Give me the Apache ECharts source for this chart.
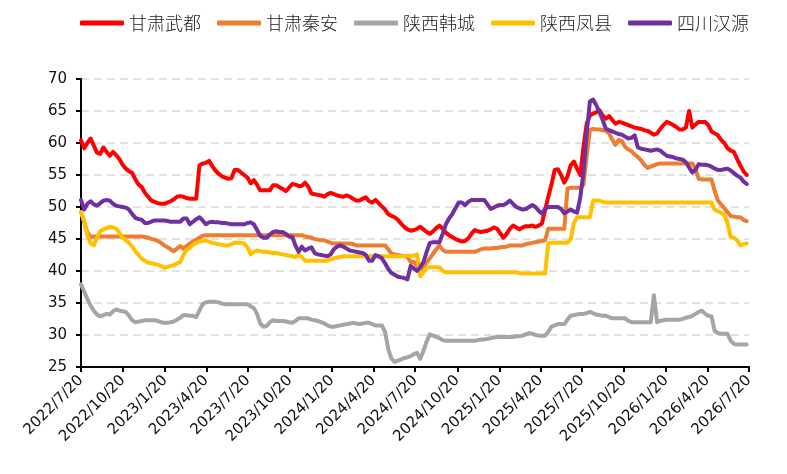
<!DOCTYPE html>
<html>
<head>
<meta charset="utf-8">
<script src="https://cdn.jsdelivr.net/npm/echarts@6/dist/echarts.min.js"></script>
<style>
html,body{margin:0;padding:0;background:#fff;}
#main{width:787px;height:474px;}
</style>
</head>
<body>
<div id="main"></div>
<script>
// 周度数据，从2022/7/20起每7天一个点
var startDay = [2022, 7, 20];
var endDay = [2026, 7, 20];
var names = ['甘肃武都', '甘肃秦安', '陕西韩城', '陕西凤县', '四川汉源'];
var colors = ['#FF0000', '#ED7D31', '#A5A5A5', '#FFC000', '#7030A0'];

var wudu = [
  60.4, 59.2, 60.0, 60.7, 59.6, 58.5, 58.3, 59.3, 58.6, 58.0,
  58.6, 58.1, 57.5, 56.6, 56.0, 55.6, 55.3, 54.3, 53.5, 53.1,
  52.2, 51.6, 51.0, 50.8, 50.6, 50.5, 50.5, 50.7, 50.9, 51.2,
  51.6, 51.7, 51.6, 51.4, 51.3, 51.3, 51.3, 56.5, 56.8, 56.9,
  57.2, 56.4, 55.7, 55.2, 54.8, 54.6, 54.4, 54.5, 55.8, 55.8,
  55.4, 55.0, 54.6, 53.7, 54.2, 53.5, 52.6, 52.6, 52.6, 52.6,
  53.4, 53.4, 53.1, 52.8, 52.5, 53.0, 53.6, 53.5, 53.3, 53.3,
  53.8, 53.2, 52.1, 52.0, 51.9, 51.8, 51.6, 52.0, 52.2, 52.0,
  51.8, 51.7, 51.6, 51.8, 51.6, 51.3, 51.0, 51.0, 51.3, 51.5,
  50.9, 50.7, 51.1, 50.6, 50.1, 49.6, 48.9, 48.6, 48.4, 48.0,
  47.4, 46.9, 46.5, 46.3, 46.4, 46.6, 46.9, 46.5, 46.1, 45.8,
  46.2, 46.7, 47.1, 46.6, 46.0, 45.6, 45.3, 45.0, 44.8, 44.6,
  44.7, 45.1, 45.8, 46.4, 46.2, 46.1, 46.2, 46.3, 46.5, 46.8,
  46.6, 45.9, 45.2, 45.8, 46.6, 47.1, 46.8, 46.5, 46.8, 47.0,
  47.0, 47.1, 46.9, 47.1, 47.4, 49.5, 51.6, 53.5, 55.8, 55.9,
  55.0, 53.8, 54.8, 56.5, 57.1, 56.0, 55.0, 59.4, 63.0, 64.3,
  64.6, 64.8, 65.1, 64.3, 63.8, 64.2, 63.6, 63.0, 63.3, 63.2,
  63.0, 62.8, 62.6, 62.4, 62.3, 62.2, 62.0, 61.9, 61.6, 61.3,
  61.5, 62.2, 62.8, 63.3, 63.1, 62.8, 62.5, 62.1, 62.1, 62.4,
  65.0, 62.4, 62.9, 63.3, 63.3, 63.3, 62.8, 61.8, 61.5, 61.2,
  60.5, 60.0, 59.2, 58.8, 58.6, 57.5, 56.5, 55.6, 55.0
];
var qinan = [
  49.2, 47.6, 46.0, 45.3, 45.4, 45.4, 45.4, 45.4, 45.4, 45.4,
  45.4, 45.4, 45.4, 45.4, 45.4, 45.4, 45.4, 45.4, 45.4, 45.4,
  45.3, 45.2, 45.0, 44.9, 44.7, 44.4, 44.0, 43.7, 43.4, 43.1,
  43.5, 43.9, 43.5, 43.9, 44.3, 44.6, 44.9, 45.2, 45.5, 45.6,
  45.6, 45.6, 45.6, 45.6, 45.6, 45.6, 45.6, 45.6, 45.6, 45.6,
  45.6, 45.6, 45.6, 45.6, 45.6, 45.6, 45.6, 45.6, 45.6, 45.6,
  45.6, 45.6, 45.6, 45.6, 45.6, 45.6, 45.6, 45.6, 45.6, 45.6,
  45.4, 45.3, 45.2, 45.0, 44.9, 44.8, 44.8, 44.6, 44.4, 44.3,
  44.3, 44.3, 44.3, 44.3, 44.3, 44.2, 44.0, 44.0, 44.0, 44.0,
  44.0, 44.0, 44.0, 44.0, 44.0, 44.0, 43.4, 42.7, 42.6, 42.5,
  42.4, 42.3, 42.2, 41.4, 41.4, 40.8, 40.1, 40.6, 41.3, 42.0,
  42.7, 43.4, 44.0, 43.3, 43.0, 43.0, 43.0, 43.0, 43.0, 43.0,
  43.0, 43.0, 43.0, 43.0, 43.2, 43.4, 43.5, 43.5, 43.5, 43.6,
  43.6, 43.7, 43.75, 43.8, 44.0, 44.0, 44.0, 44.0, 44.0, 44.2,
  44.3, 44.4, 44.5, 44.6, 44.7, 44.8, 46.6, 46.6, 46.6, 46.6,
  46.6, 46.6, 52.9, 53.0, 53.0, 53.0, 53.0, 53.5, 58.0, 62.0,
  62.2, 62.1, 62.1, 62.0, 61.9, 61.5, 60.5, 59.7, 60.5, 60.3,
  59.4, 59.0, 58.7, 58.2, 57.8, 57.3, 56.6, 56.1, 56.3, 56.5,
  56.7, 56.8, 56.8, 56.8, 56.8, 56.8, 56.8, 56.8, 56.8, 56.8,
  56.8, 56.8, 56.0, 54.4, 54.3, 54.3, 54.3, 54.3, 52.5, 51.0,
  50.4, 49.8, 49.2, 48.6, 48.5, 48.4, 48.4, 48.0, 47.8
];
var hancheng = [
  37.9, 36.8, 35.6, 34.6, 33.8, 33.2, 32.9, 33.1, 33.3, 33.2,
  33.7, 34.0, 33.8, 33.7, 33.6, 33.0, 32.3, 32.0, 32.1, 32.2,
  32.3, 32.3, 32.3, 32.3, 32.2, 32.0, 31.9, 31.9, 32.0, 32.1,
  32.4, 32.7, 33.1, 33.1, 33.0, 33.0, 32.8, 33.8, 34.8, 35.1,
  35.2, 35.2, 35.2, 35.1, 34.9, 34.8, 34.8, 34.8, 34.8, 34.8,
  34.8, 34.8, 34.8, 34.5, 34.2, 33.3, 31.8, 31.3, 31.4, 32.0,
  32.3, 32.2, 32.2, 32.2, 32.1, 32.0, 31.9, 32.2, 32.6, 32.6,
  32.6, 32.6, 32.4, 32.3, 32.2, 32.0, 31.8, 31.5, 31.3, 31.3,
  31.4, 31.5, 31.6, 31.7, 31.8, 31.9, 31.8, 31.7, 31.8, 31.9,
  31.9, 31.7, 31.5, 31.5, 31.5, 30.5, 27.8, 26.3, 25.8, 26.0,
  26.2, 26.4, 26.5, 26.7, 27.0, 27.2, 26.3, 27.5, 29.0, 30.1,
  29.9, 29.7, 29.5, 29.2, 29.1, 29.1, 29.1, 29.1, 29.1, 29.1,
  29.1, 29.1, 29.1, 29.1, 29.2, 29.3, 29.3, 29.4, 29.5, 29.6,
  29.7, 29.7, 29.7, 29.7, 29.7, 29.7, 29.8, 29.8, 29.9, 30.1,
  30.3, 30.2, 30.0, 29.9, 29.9, 29.9, 30.5, 31.3, 31.5, 31.7,
  31.7, 31.7, 32.4, 33.0, 33.1, 33.2, 33.3, 33.3, 33.4, 33.6,
  33.4, 33.2, 33.1, 33.0, 33.0, 32.8, 32.6, 32.6, 32.6, 32.6,
  32.6, 32.2, 32.0, 32.0, 32.0, 32.0, 32.0, 32.0, 32.0, 36.2,
  32.0, 32.2, 32.3, 32.4, 32.4, 32.4, 32.4, 32.4, 32.5, 32.7,
  32.8, 33.0, 33.3, 33.6, 33.8, 33.3, 33.0, 32.9, 30.6, 30.3,
  30.2, 30.2, 30.2, 29.1, 28.6, 28.5, 28.5, 28.5, 28.5
];
var fengxian = [
  49.2, 47.8, 45.5, 44.3, 44.0, 45.2, 46.2, 46.5, 46.7, 46.9,
  46.8, 46.6, 46.0, 45.2, 44.8, 44.4, 43.8, 43.1, 42.5, 41.9,
  41.6, 41.3, 41.2, 41.1, 41.0, 40.8, 40.5, 40.6, 40.8, 40.9,
  41.2, 41.4, 42.5, 43.3, 43.6, 44.1, 44.4, 44.6, 44.7, 44.8,
  44.6, 44.4, 44.3, 44.2, 44.1, 44.0, 44.0, 44.2, 44.4, 44.4,
  44.4, 44.3, 43.7, 42.6, 43.0, 43.2, 43.1, 43.0, 43.0, 42.9,
  42.8, 42.8, 42.7, 42.6, 42.5, 42.4, 42.3, 42.2, 42.5, 42.2,
  41.6, 41.6, 41.6, 41.6, 41.6, 41.6, 41.6, 41.6, 41.8, 42.0,
  42.1, 42.2, 42.3, 42.3, 42.3, 42.3, 42.3, 42.3, 42.3, 42.3,
  42.3, 42.3, 42.3, 42.3, 42.3, 42.3, 42.3, 42.3, 42.3, 42.3,
  42.3, 42.3, 42.4, 42.4, 42.4, 42.6, 39.2, 39.8, 40.5, 40.6,
  40.6, 40.6, 40.6, 40.0, 39.8, 39.8, 39.8, 39.8, 39.8, 39.8,
  39.8, 39.8, 39.8, 39.8, 39.8, 39.8, 39.8, 39.8, 39.8, 39.8,
  39.8, 39.8, 39.8, 39.8, 39.8, 39.8, 39.8, 39.7, 39.6, 39.6,
  39.6, 39.6, 39.6, 39.6, 39.6, 39.6, 44.3, 44.4, 44.4, 44.4,
  44.4, 44.4, 44.4, 45.0, 47.5, 48.4, 48.4, 48.4, 48.4, 48.4,
  51.0, 51.0, 51.0, 50.8, 50.7, 50.7, 50.7, 50.7, 50.7, 50.7,
  50.7, 50.7, 50.7, 50.7, 50.7, 50.7, 50.7, 50.7, 50.7, 50.7,
  50.7, 50.7, 50.7, 50.7, 50.7, 50.7, 50.7, 50.7, 50.7, 50.7,
  50.7, 50.7, 50.7, 50.7, 50.7, 50.7, 50.7, 50.7, 49.6, 49.3,
  49.1, 48.8, 47.5, 45.3, 45.2, 44.8, 44.0, 44.2, 44.3
];
var hanyuan = [
  51.1, 49.6, 50.5, 50.9, 50.4, 50.2, 50.6, 51.0, 51.1, 51.0,
  50.5, 50.2, 50.1, 50.0, 49.9, 49.6, 48.9, 48.3, 48.1, 48.0,
  47.5, 47.5, 47.7, 47.9, 47.9, 47.9, 47.9, 47.8, 47.7, 47.7,
  47.7, 47.7, 48.2, 48.2, 47.3, 47.7, 48.1, 48.4, 47.9, 47.3,
  47.6, 47.7, 47.6, 47.6, 47.5, 47.5, 47.4, 47.3, 47.3, 47.3,
  47.3, 47.3, 47.5, 47.6, 47.3, 46.4, 45.5, 45.2, 45.2, 45.7,
  46.1, 46.2, 46.1, 46.1, 45.8, 45.4, 45.3, 44.0, 43.0, 43.8,
  43.2, 43.5, 43.7, 42.8, 42.6, 42.5, 42.4, 42.3, 42.6, 43.4,
  43.8, 44.0, 43.8, 43.5, 43.2, 43.1, 43.0, 42.9, 42.8, 42.5,
  41.6, 41.6, 42.5, 42.3, 42.0, 41.2, 40.3, 39.7, 39.4, 39.1,
  39.0, 38.9, 38.7, 40.8, 40.4, 40.0, 40.6, 41.4, 43.0, 44.4,
  44.5, 44.5, 44.5, 45.8, 47.3, 48.2, 48.9, 49.8, 50.7, 50.7,
  50.3, 50.8, 51.1, 51.1, 51.1, 51.1, 51.1, 50.4, 49.7, 49.9,
  50.2, 50.3, 50.3, 50.6, 51.0, 50.5, 50.0, 49.8, 49.6, 49.7,
  50.0, 50.3, 50.0, 49.4, 49.0, 49.7, 50.0, 50.0, 50.0, 50.0,
  49.7, 49.0, 49.3, 49.6, 49.3, 49.1, 51.5, 55.5, 61.5, 66.5,
  66.8, 65.9, 64.8, 63.6, 62.2, 62.0, 61.8, 61.6, 61.4, 61.3,
  61.0, 60.7, 60.8, 61.2, 59.3, 59.1, 59.0, 58.9, 58.8, 58.9,
  59.0, 58.8, 58.4, 58.0, 57.9, 57.8, 57.6, 57.5, 57.4, 57.0,
  56.2, 55.4, 55.8, 56.7, 56.6, 56.6, 56.5, 56.3, 56.0, 55.8,
  55.8, 55.9, 56.0, 55.7, 55.3, 54.9, 54.6, 54.0, 53.6
];
var seriesValues = [wudu, qinan, hancheng, fengxian, hanyuan];

function fmt(t) {
    var d = new Date(t);
    return d.getUTCFullYear() + '/' + (d.getUTCMonth() + 1) + '/' + d.getUTCDate();
}
var DAY = 86400000;
var t0 = Date.UTC(startDay[0], startDay[1] - 1, startDay[2]);
var t1 = Date.UTC(endDay[0], endDay[1] - 1, endDay[2]);

// 横轴按天排，刻度只显示每季度的20号
var days = [];
for (var t = t0; t <= t1; t += DAY) days.push(fmt(t));

function isQuarterDay(idx, val) {
    var p = val.split('/');
    return p[2] === '20' && (Number(p[1]) - 1) % 3 === 0;
}

var series = names.map(function (name, k) {
    return {
        name: name,
        type: 'line',
        symbol: 'none',
        data: seriesValues[k].map(function (v, i) {
            return [fmt(t0 + i * 7 * DAY), v];
        }),
        lineStyle: {width: 4, color: colors[k], cap: 'round', join: 'round'},
        itemStyle: {color: colors[k]}
    };
});

var chart = echarts.init(document.getElementById('main'));
chart.setOption({
    animation: false,
    backgroundColor: '#fff',
    legend: {
        left: 75,
        top: 9,
        icon: 'roundRect',
        itemWidth: 44,
        itemHeight: 5,
        itemGap: 16,
        textStyle: {fontFamily: 'Noto Sans CJK SC', fontWeight: 300, fontSize: 18, color: '#222'},
        data: names
    },
    grid: {left: 81, right: 38, top: 79, bottom: 107, outerBoundsMode: 'none'},
    xAxis: {
        type: 'category',
        boundaryGap: false,
        data: days,
        axisLine: {lineStyle: {color: '#000', width: 2}},
        axisTick: {show: true, interval: isQuarterDay, length: 5, lineStyle: {color: '#000', width: 2}},
        axisLabel: {
            interval: isQuarterDay,
            rotate: 45,
            margin: 11,
            fontFamily: 'DejaVu Sans',
            fontSize: 15,
            color: '#111'
        },
        splitLine: {show: false}
    },
    yAxis: {
        type: 'value',
        min: 25,
        max: 70,
        interval: 5,
        axisLine: {show: true, lineStyle: {color: '#000', width: 2}},
        axisTick: {show: true, length: 5, lineStyle: {color: '#000', width: 2}},
        axisLabel: {margin: 14, fontFamily: 'DejaVu Sans', fontSize: 15, color: '#111'},
        splitLine: {lineStyle: {color: '#D9D9D9', width: 1.5, type: [8, 5]}}
    },
    series: series
});
</script>
</body>
</html>
